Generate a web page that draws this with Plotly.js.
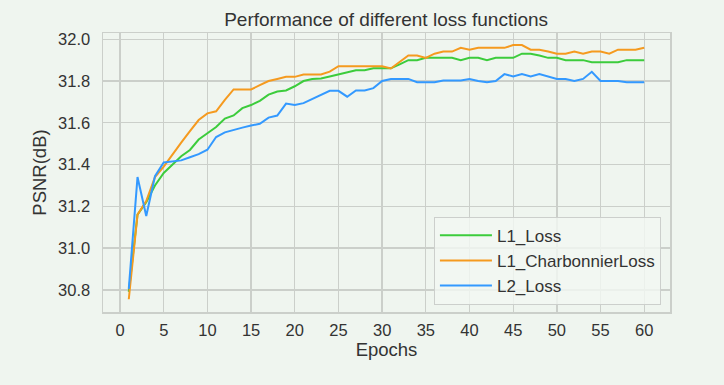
<!DOCTYPE html>
<html>
<head>
<meta charset="utf-8">
<script src="https://cdn.plot.ly/plotly-3.0.1.min.js"></script>
<style>
html,body{margin:0;padding:0;background:#eff5ef;}
#chart{width:724px;height:385px;}
</style>
</head>
<body>
<div id="chart"></div>
<script>
const epochs = Array.from({length: 60}, (_, i) => i + 1);
const seriesNames = ["L1_Loss", "L1_CharbonnierLoss", "L2_Loss"];
const l1Loss = [
  30.79, 31.16, 31.22, 31.30, 31.36, 31.40, 31.44, 31.47, 31.52, 31.55,
  31.58, 31.62, 31.635, 31.67, 31.685, 31.705, 31.735, 31.75, 31.755, 31.775,
  31.80, 31.81, 31.812, 31.822, 31.833, 31.842, 31.852, 31.852, 31.861, 31.861,
  31.861, 31.88, 31.90, 31.90, 31.911, 31.911, 31.911, 31.911, 31.90, 31.911,
  31.911, 31.90, 31.911, 31.911, 31.911, 31.931, 31.931, 31.922, 31.911, 31.911,
  31.90, 31.90, 31.90, 31.89, 31.89, 31.89, 31.89, 31.90, 31.90, 31.90
];
const l1Charbonnier = [
  30.755, 31.16, 31.225, 31.34, 31.39, 31.45, 31.505, 31.56, 31.613, 31.645,
  31.655, 31.71, 31.76, 31.76, 31.76, 31.78, 31.80, 31.81, 31.82, 31.82,
  31.831, 31.831, 31.831, 31.845, 31.871, 31.871, 31.871, 31.871, 31.871, 31.871,
  31.86, 31.89, 31.922, 31.922, 31.911, 31.931, 31.941, 31.941, 31.959, 31.95,
  31.959, 31.959, 31.959, 31.959, 31.972, 31.972, 31.95, 31.95, 31.941, 31.931,
  31.931, 31.941, 31.931, 31.941, 31.941, 31.931, 31.95, 31.95, 31.95, 31.959
];
const l2Loss = [
  30.805, 31.34, 31.154, 31.344, 31.41, 31.414, 31.42, 31.435, 31.45, 31.471,
  31.532, 31.554, 31.567, 31.577, 31.587, 31.595, 31.625, 31.635, 31.692, 31.685,
  31.694, 31.713, 31.734, 31.753, 31.753, 31.725, 31.755, 31.755, 31.766, 31.80,
  31.81, 31.81, 31.81, 31.794, 31.794, 31.794, 31.803, 31.803, 31.803, 31.81,
  31.80, 31.794, 31.80, 31.833, 31.822, 31.833, 31.822, 31.833, 31.822, 31.81,
  31.81, 31.80, 31.81, 31.844, 31.80, 31.80, 31.80, 31.794, 31.794, 31.794
];
const colors = ["#3ccc3c", "#f59a1f", "#3399ff"];
const seriesValues = [l1Loss, l1Charbonnier, l2Loss];

const traces = seriesValues.map((vals, i) => ({
  x: epochs, y: vals, type: "scatter", mode: "lines",
  name: seriesNames[i],
  line: {color: colors[i], width: 2}
}));

const font = "Liberation Sans, Arial, sans-serif";
const layout = {
  width: 724, height: 385,
  margin: {l: 103, r: 54, t: 33, b: 73, pad: 0},
  paper_bgcolor: "#eff5ef",
  plot_bgcolor: "#eff5ef",
  font: {family: font, color: "#333333", size: 16},
  title: {
    text: "Performance of different loss functions",
    font: {family: font, size: 19, color: "#333333"},
    x: 0.5333, xanchor: "center", y: 0.932, yanchor: "bottom"
  },
  xaxis: {
    range: [-1.95, 62.95],
    tickmode: "linear", tick0: 0, dtick: 5,
    showgrid: true, gridcolor: "#cbcfca", gridwidth: 1.3,
    zeroline: false,
    showline: true, mirror: true, linecolor: "#cbcfca", linewidth: 1.5,
    ticks: "outside", ticklen: 3, tickcolor: "rgba(0,0,0,0)",
    tickfont: {size: 16.5, color: "#333333"},
    title: {text: "Epochs", font: {size: 18.5, color: "#333333"}, standoff: 2}
  },
  yaxis: {
    range: [30.694, 32.03],
    tickmode: "linear", tick0: 30.8, dtick: 0.2, tickformat: ".1f",
    showgrid: true, gridcolor: "#cbcfca", gridwidth: 1.3,
    zeroline: false,
    showline: true, mirror: true, linecolor: "#cbcfca", linewidth: 1.5,
    ticks: "outside", ticklen: 8, tickcolor: "rgba(0,0,0,0)",
    tickfont: {size: 16.5, color: "#333333"},
    title: {text: "PSNR(dB)", font: {size: 18.5, color: "#333333"}, standoff: 6}
  },
  legend: {
    x: 0.984, xanchor: "right", y: 0.026, yanchor: "bottom",
    bgcolor: "rgba(242,247,242,0.8)",
    bordercolor: "#cccfcc", borderwidth: 1,
    font: {size: 17, color: "#333333"},
    itemwidth: 52,
    tracegroupgap: 0
  },
  showlegend: true
};

Plotly.newPlot("chart", traces, layout, {displayModeBar: false, staticPlot: true});
</script>
</body>
</html>
